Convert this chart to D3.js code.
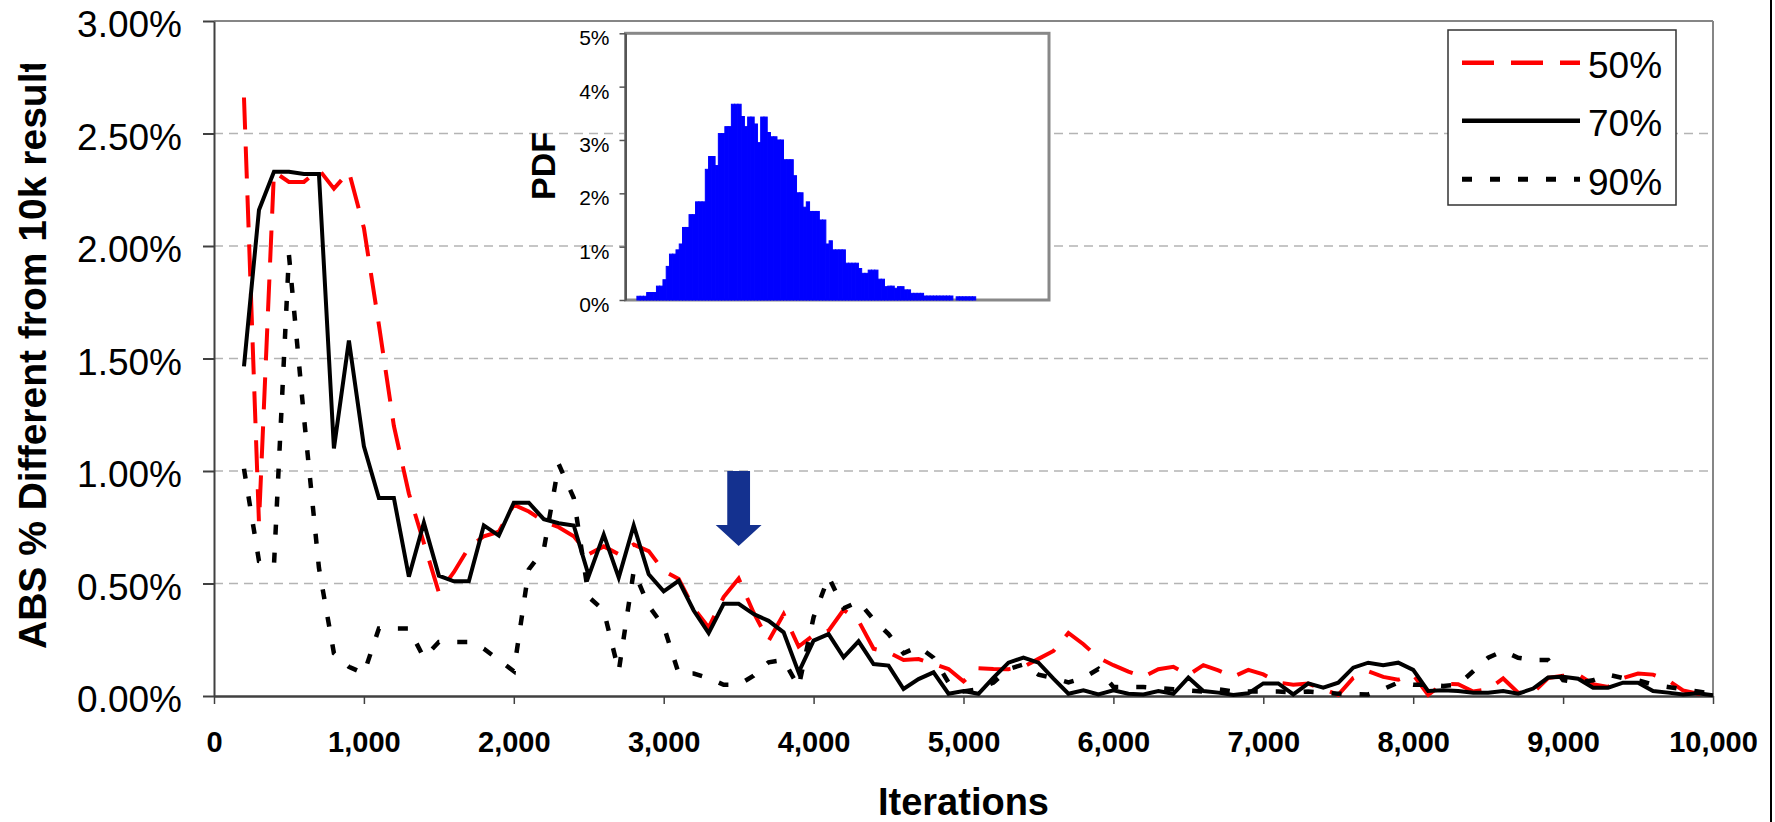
<!DOCTYPE html>
<html><head><meta charset="utf-8">
<script src="https://cdn.jsdelivr.net/npm/d3@7"></script>
<style>body{margin:0;background:#fff} svg{display:block;font-family:"Liberation Sans",Arial,sans-serif}</style>
</head><body><svg id="c" width="1775" height="822"></svg>
<script>
const iterations = [200,300,400,500,600,700,800,900,1000,1100,1200,1300,1400,1500,1600,1700,1800,1900,2000,2100,2200,2300,2400,2500,2600,2700,2800,2900,3000,3100,3200,3300,3400,3500,3600,3700,3800,3900,4000,4100,4200,4300,4400,4500,4600,4700,4800,4900,5000,5100,5200,5300,5400,5500,5600,5700,5800,5900,6000,6100,6200,6300,6400,6500,6600,6700,6800,6900,7000,7100,7200,7300,7400,7500,7600,7700,7800,7900,8000,8100,8200,8300,8400,8500,8600,8700,8800,8900,9000,9100,9200,9300,9400,9500,9600,9700,9800,9900,10000];
const pct50 = [2.66,0.77,2.33,2.285,2.285,2.34,2.255,2.33,2.08,1.65,1.20,0.90,0.68,0.46,0.55,0.66,0.71,0.73,0.85,0.82,0.776,0.75,0.71,0.63,0.665,0.63,0.673,0.644,0.556,0.52,0.39,0.305,0.44,0.522,0.37,0.245,0.364,0.22,0.27,0.29,0.383,0.334,0.21,0.194,0.16,0.164,0.142,0.12,0.065,0.123,0.12,0.119,0.13,0.165,0.2,0.28,0.23,0.17,0.137,0.108,0.085,0.119,0.13,0.093,0.137,0.114,0.086,0.116,0.096,0.06,0.05,0.055,0.03,0.005,0.08,0.11,0.085,0.072,0.095,0.005,0.055,0.052,0.02,0.03,0.078,0.015,0.015,0.08,0.09,0.095,0.052,0.04,0.08,0.1,0.095,0.07,0.025,0.01,0.0];
const pct70 = [1.465,2.16,2.33,2.33,2.32,2.32,1.10,1.58,1.11,0.88,0.88,0.53,0.77,0.535,0.51,0.51,0.758,0.713,0.859,0.859,0.786,0.768,0.758,0.534,0.717,0.526,0.758,0.541,0.465,0.512,0.38,0.28,0.41,0.41,0.364,0.334,0.283,0.105,0.246,0.275,0.172,0.243,0.142,0.135,0.031,0.075,0.105,0.01,0.022,0.01,0.082,0.148,0.171,0.148,0.077,0.01,0.025,0.007,0.025,0.01,0.007,0.022,0.01,0.082,0.022,0.015,0.005,0.012,0.056,0.056,0.007,0.056,0.037,0.059,0.126,0.148,0.137,0.148,0.116,0.022,0.025,0.022,0.015,0.015,0.022,0.01,0.033,0.082,0.086,0.077,0.037,0.037,0.059,0.059,0.022,0.015,0.007,0.012,0.003];
const pct90 = [1.01,0.60,0.58,1.96,1.24,0.57,0.19,0.13,0.10,0.30,0.30,0.30,0.17,0.24,0.24,0.24,0.21,0.16,0.11,0.563,0.65,1.03,0.88,0.44,0.38,0.11,0.556,0.40,0.31,0.10,0.10,0.08,0.05,0.05,0.09,0.15,0.16,0.04,0.35,0.53,0.39,0.42,0.34,0.275,0.19,0.22,0.17,0.06,0.02,0.03,0.06,0.12,0.14,0.095,0.08,0.06,0.08,0.12,0.04,0.04,0.04,0.035,0.03,0.025,0.02,0.03,0.02,0.02,0.02,0.02,0.015,0.02,0.015,0.01,0.008,0.007,0.03,0.06,0.05,0.05,0.045,0.05,0.11,0.17,0.2,0.17,0.16,0.16,0.07,0.06,0.07,0.095,0.08,0.07,0.05,0.04,0.03,0.02,0.01];
const seriesNames = ["50%","70%","90%"];
const yTicks = [0,0.5,1,1.5,2,2.5,3];
const xTicks = [0,1000,2000,3000,4000,5000,6000,7000,8000,9000,10000];
const pdfValues = [0.07,0.07,0.07,0.14,0.14,0.14,0.26,0.26,0.38,0.63,0.86,0.86,0.94,1.05,1.36,1.36,1.6,1.6,1.84,1.84,1.84,2.45,2.69,2.69,2.52,3.12,3.12,3.25,3.25,3.67,3.67,3.67,3.44,3.25,3.43,3.43,3.3,2.95,3.43,3.43,3.14,3.06,3.06,3.0,3.0,2.63,2.63,2.63,2.33,2.01,2.01,1.74,1.84,1.66,1.66,1.66,1.5,1.5,1.05,1.11,0.94,0.94,0.94,0.94,0.69,0.69,0.69,0.69,0.59,0.5,0.5,0.56,0.56,0.56,0.39,0.39,0.25,0.26,0.26,0.22,0.25,0.25,0.19,0.19,0.125,0.125,0.125,0.125,0.075,0.075,0.075,0.075,0.075,0.075,0.075,0.075,0.075,0,0.06,0.06,0.06,0.06,0.06,0.06];
const pdfTicks = [0,1,2,3,4,5];
const arrowSpec = {iter:3500, shaftHalf:76, headHalf:153, top:1.0, headBase:0.76, tip:0.667};

const svg = d3.select("#c");
svg.append("rect").attr("width",1775).attr("height",822).attr("fill","#fff");

const x = d3.scaleLinear().domain([0,10000]).range([214,1713]);
const y = d3.scaleLinear().domain([0,3]).range([696,21]);

// gridlines
svg.append("g").selectAll("line").data(yTicks.filter(d=>d>0&&d<3)).join("line")
  .attr("x1",x(0)).attr("x2",x(10000)).attr("y1",d=>y(d)).attr("y2",d=>y(d))
  .attr("stroke","#b4b4b4").attr("stroke-width",1.5).attr("stroke-dasharray","9,6");

// plot border top & right
svg.append("line").attr("x1",x(0)).attr("x2",x(10000)).attr("y1",y(3)).attr("y2",y(3)).attr("stroke","#868686").attr("stroke-width",2);
svg.append("line").attr("x1",x(10000)).attr("x2",x(10000)).attr("y1",y(3)).attr("y2",y(0)).attr("stroke","#868686").attr("stroke-width",2);

// outer chart border (right edge)
svg.append("line").attr("x1",1771).attr("x2",1771).attr("y1",0).attr("y2",822).attr("stroke","#000").attr("stroke-width",2);

// axes
const yAxis = d3.axisLeft(y).tickValues(yTicks).tickFormat(d=>d.toFixed(2)+"%").tickSize(11).tickSizeOuter(0).tickPadding(21);
const gy = svg.append("g").attr("transform",`translate(${x(0)},0)`).call(yAxis);
gy.select(".domain").attr("stroke","#404040").attr("stroke-width",2);
gy.selectAll(".tick line").attr("stroke","#404040").attr("stroke-width",2);
gy.selectAll("text").attr("font-size",37).attr("fill","#000").attr("dy","0.42em").attr("font-family","Liberation Sans, Arial, sans-serif");

const xAxis = d3.axisBottom(x).tickValues(xTicks).tickFormat(d3.format(",")).tickSize(8).tickSizeOuter(0).tickPadding(27);
const gx = svg.append("g").attr("transform",`translate(0,${y(0)})`).call(xAxis);
gx.select(".domain").attr("stroke","#404040").attr("stroke-width",2.5);
gx.selectAll(".tick line").attr("stroke","#404040").attr("stroke-width",1.5);
gx.selectAll("text").attr("font-size",29).attr("font-weight","bold").attr("fill","#000").attr("font-family","Liberation Sans, Arial, sans-serif");

// axis titles
svg.append("text").text("Iterations").attr("x",(x(0)+x(10000))/2).attr("y",815)
  .attr("text-anchor","middle").attr("font-size",38).attr("font-weight","bold");
svg.append("clipPath").attr("id","ytclip").append("rect").attr("x",0).attr("y",64).attr("width",80).attr("height",700);
svg.append("g").attr("clip-path","url(#ytclip)").append("text")
  .text("ABS % Different from 10k result")
  .attr("transform","translate(46,649) rotate(-90)")
  .attr("font-size",39).attr("font-weight","bold");

// series lines
const line = d3.line().x((d,i)=>x(iterations[i])).y(d=>y(d));
const styles = [
  {data:pct50, color:"#ff0000", dash:"32,17", w:4},
  {data:pct70, color:"#000000", dash:null, w:4},
  {data:pct90, color:"#000000", dash:"10,18", w:4.5}
];
[0,1,2].forEach(k=>{
  const s = styles[k];
  const p = svg.append("path").attr("d",line(s.data)).attr("fill","none")
    .attr("stroke",s.color).attr("stroke-width",s.w).attr("stroke-linejoin","miter");
  if(s.dash) p.attr("stroke-dasharray",s.dash);
});

// arrow
const a = arrowSpec;
const arrowPts = [
  [a.iter-a.shaftHalf,a.top],[a.iter+a.shaftHalf,a.top],[a.iter+a.shaftHalf,a.headBase],
  [a.iter+a.headHalf,a.headBase],[a.iter,a.tip],[a.iter-a.headHalf,a.headBase],[a.iter-a.shaftHalf,a.headBase]
];
svg.append("polygon").attr("points",arrowPts.map(p=>[x(p[0]),y(p[1])].join(",")).join(" ")).attr("fill","#14318f");

// legend
const lg = svg.append("g");
lg.append("rect").attr("x",1448).attr("y",30).attr("width",228).attr("height",175).attr("fill","#fff").attr("stroke","#333").attr("stroke-width",1.5);
const legY = [62.7,120.7,179.3];
seriesNames.forEach((n,i)=>{
  const s = styles[i];
  const l = lg.append("line").attr("x1",1462).attr("x2",1580).attr("y1",legY[i]).attr("y2",legY[i])
    .attr("stroke",s.color).attr("stroke-width",s.w+0.5);
  if(s.dash) l.attr("stroke-dasharray",s.dash);
  lg.append("text").text(n).attr("x",1588).attr("y",legY[i]+15.5).attr("font-size",37);
});

// inset PDF histogram
const ix = d3.scaleLinear().domain([-3.5,126.5]).range([625.5,1049]);
const iy = d3.scaleLinear().domain([0,5]).range([300,33.3]);
const ins = svg.append("g");
ins.append("rect").attr("x",625.5).attr("y",33.3).attr("width",1049-625.5).attr("height",300-33.3)
  .attr("fill","#fff").attr("stroke","#888").attr("stroke-width",3);
ins.selectAll("rect.bar").data(pdfValues).join("rect").attr("class","bar")
  .attr("x",(d,i)=>ix(i)).attr("width",(d,i)=>ix(i+1)-ix(i))
  .attr("y",d=>iy(d)).attr("height",d=>iy(0)-iy(d))
  .attr("fill","#0000ff").attr("stroke",d=>d>0?"#0000ff":"none").attr("stroke-width",1);
const iAxis = d3.axisLeft(iy).tickValues(pdfTicks).tickFormat(d=>d+"%").tickSize(6).tickSizeOuter(0).tickPadding(10);
const gi = ins.append("g").attr("transform","translate(625.5,0)").call(iAxis);
gi.select(".domain").attr("stroke","#555").attr("stroke-width",2);
gi.selectAll(".tick line").attr("stroke","#555").attr("stroke-width",1.5);
gi.selectAll("text").attr("font-size",21).attr("fill","#000").attr("dy","0.55em").attr("font-family","Liberation Sans, Arial, sans-serif");
ins.append("text").text("PDF").attr("transform","translate(555,166) rotate(-90)")
  .attr("text-anchor","middle").attr("font-size",34).attr("font-weight","bold");
</script></body></html>
